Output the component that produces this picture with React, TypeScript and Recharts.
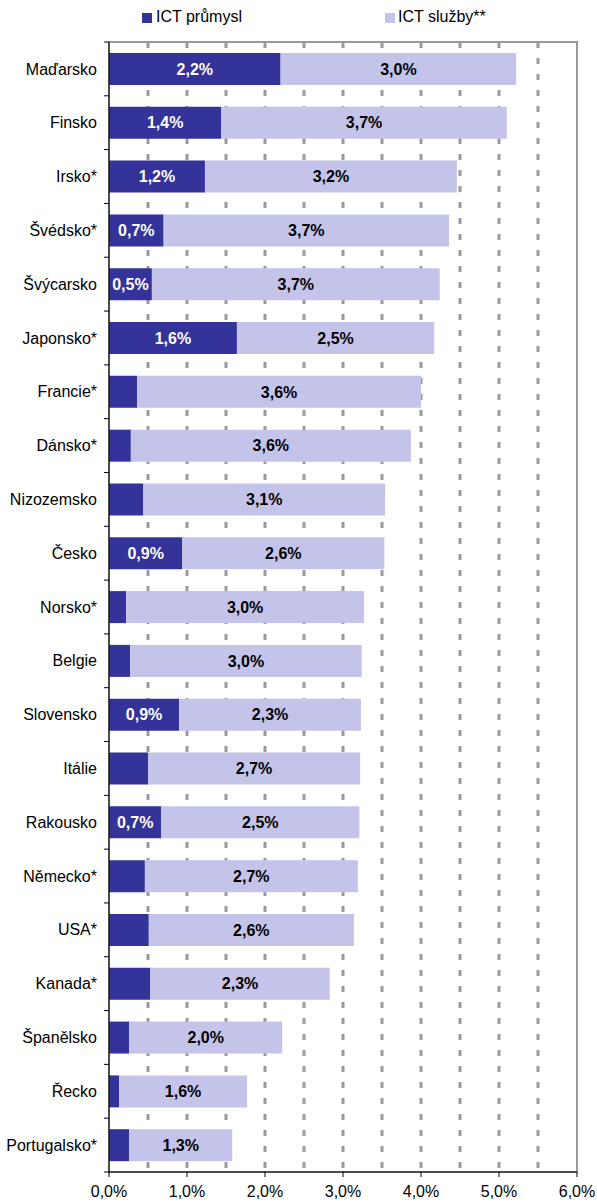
import React from "react";
import {
  BarChart,
  Bar,
  XAxis,
  YAxis,
  CartesianGrid,
  ReferenceArea,
  LabelList,
} from "recharts";

// Podíl ICT sektoru na přidané hodnotě (%)
const countries = [
  "Maďarsko", "Finsko", "Irsko*", "Švédsko*", "Švýcarsko", "Japonsko*",
  "Francie*", "Dánsko*", "Nizozemsko", "Česko", "Norsko*", "Belgie",
  "Slovensko", "Itálie", "Rakousko", "Německo*", "USA*", "Kanada*",
  "Španělsko", "Řecko", "Portugalsko*",
];

const ictIndustry = [
  2.2, 1.44, 1.23, 0.7, 0.55, 1.64, 0.36, 0.28, 0.44, 0.94, 0.22, 0.27,
  0.9, 0.5, 0.67, 0.46, 0.51, 0.53, 0.26, 0.13, 0.26,
];

const ictServices = [
  3.02, 3.66, 3.23, 3.66, 3.69, 2.53, 3.64, 3.59, 3.1, 2.59, 3.05, 2.97,
  2.33, 2.72, 2.54, 2.73, 2.63, 2.3, 1.96, 1.64, 1.32,
];

const industryLabels = [
  "2,2%", "1,4%", "1,2%", "0,7%", "0,5%", "1,6%", "", "", "", "0,9%", "", "",
  "0,9%", "", "0,7%", "", "", "", "", "", "",
];

const servicesLabels = [
  "3,0%", "3,7%", "3,2%", "3,7%", "3,7%", "2,5%", "3,6%", "3,6%", "3,1%",
  "2,6%", "3,0%", "3,0%", "2,3%", "2,7%", "2,5%", "2,7%", "2,6%", "2,3%",
  "2,0%", "1,6%", "1,3%",
];

const xTicks = [0, 1, 2, 3, 4, 5, 6];
const gridValues = [0.5, 1, 1.5, 2, 2.5, 3, 3.5, 4, 4.5, 5, 5.5];

const data = countries.map((name, i) => ({
  name,
  industry: ictIndustry[i],
  services: ictServices[i],
  industryLabel: industryLabels[i],
  servicesLabel: servicesLabels[i],
}));

const DARK = "#333399";
const LIGHT = "#C4C3EA";
const FONT = "'Liberation Sans', Arial, sans-serif";

const W = 597;
const H = 1203;
const MARGIN = { top: 42, right: 20, bottom: 0, left: 0 };
const X_AXIS_H = 31;
const BAND = (H - MARGIN.top - MARGIN.bottom - X_AXIS_H) / countries.length;

const CountryTick = (props: any) => {
  const { x, y, payload, index } = props;
  const axisX = x + 12;
  const isLast = index === countries.length - 1;
  return (
    <g>
      <line x1={axisX - 5} x2={axisX} y1={y - BAND / 2} y2={y - BAND / 2} stroke="#000" />
      {isLast && (
        <line x1={axisX - 5} x2={axisX} y1={y + BAND / 2} y2={y + BAND / 2} stroke="#000" />
      )}
      <text x={x} y={y} dy="0.35em" textAnchor="end" fontSize={16} fontFamily={FONT} fill="#000">
        {payload.value}
      </text>
    </g>
  );
};

export default function App() {
  return (
    <div style={{ position: "absolute", left: 0, top: 0, width: W, height: H, background: "#fff" }}>
      <div
        style={{
          position: "absolute",
          top: 8,
          left: 0,
          width: W,
          fontFamily: FONT,
          fontSize: 16,
          lineHeight: "18px",
        }}
      >
        <span style={{ position: "absolute", left: 142, top: 5, width: 10, height: 10, background: DARK }} />
        <span style={{ position: "absolute", left: 156, top: 0 }}>ICT průmysl</span>
        <span style={{ position: "absolute", left: 385, top: 5, width: 10, height: 10, background: LIGHT }} />
        <span style={{ position: "absolute", left: 398, top: 0 }}>ICT služby**</span>
      </div>
      <BarChart
        width={W}
        height={H}
        data={data}
        layout="vertical"
        margin={MARGIN}
        barSize={32}
        style={{ fontFamily: FONT }}
      >
        <CartesianGrid
          horizontal={false}
          vertical
          verticalValues={gridValues}
          stroke="#999999"
          strokeWidth={3}
          strokeDasharray="6 10"
        />
        <XAxis
          type="number"
          domain={[0, 6]}
          ticks={xTicks}
          interval={0}
          height={X_AXIS_H}
          tickFormatter={(v: number) => `${v.toFixed(1).replace(".", ",")}%`}
          tick={{ fontSize: 16, fill: "#000", fontFamily: FONT }}
          axisLine={{ stroke: "#000" }}
          tickLine={{ stroke: "#000" }}
          tickSize={5}
          tickMargin={9}
        />
        <YAxis
          type="category"
          dataKey="name"
          width={109}
          interval={0}
          axisLine={{ stroke: "#000" }}
          tickLine={false}
          tickSize={0}
          tickMargin={12}
          tick={<CountryTick />}
        />
        <ReferenceArea x1={0} x2={6} fill="none" stroke="#999999" strokeWidth={2} />
        <Bar dataKey="industry" stackId="a" fill={DARK} isAnimationActive={false}>
          <LabelList
            dataKey="industryLabel"
            position="center"
            fill="#fff"
            fontSize={16}
            fontWeight="bold"
            fontFamily={FONT}
          />
        </Bar>
        <Bar dataKey="services" stackId="a" fill={LIGHT} isAnimationActive={false}>
          <LabelList
            dataKey="servicesLabel"
            position="center"
            fill="#000"
            fontSize={16}
            fontWeight="bold"
            fontFamily={FONT}
          />
        </Bar>
      </BarChart>
    </div>
  );
}
